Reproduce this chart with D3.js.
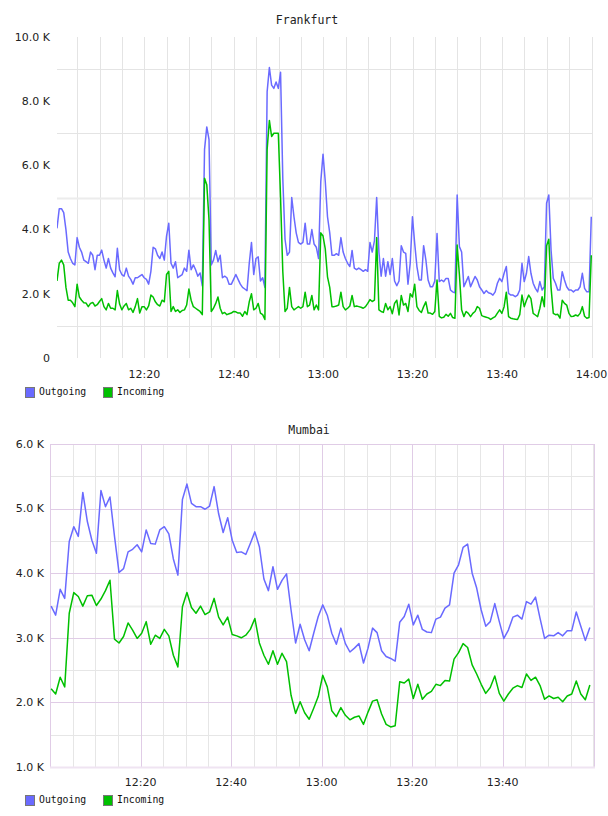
<!DOCTYPE html>
<html><head><meta charset="utf-8">
<script src="https://cdn.jsdelivr.net/npm/d3@7/dist/d3.min.js"></script>
<style>body{margin:0;background:#fff}svg{display:block}</style>
</head><body>
<svg id="chart" width="608" height="816"></svg>
<script>
// ---------------- DATA ----------------
const seriesNames = ["Outgoing", "Incoming"];
const seriesColors = ["#6a6aff", "#00c000"];

// Frankfurt: samples every 30 s starting 12:00:27 (values in K)
const frankfurtStart = "12:00:27";
const frankfurtStepSec = 30;
const frankfurtOutgoing = [
4.04,4.65,4.65,4.53,4.0,3.3,3.1,2.95,2.9,3.75,
3.45,3.3,3.05,3.0,2.95,3.3,3.2,2.75,3.2,3.2,
3.36,3.05,2.8,3.1,2.8,2.65,2.53,3.42,2.75,2.6,
2.55,2.8,2.55,2.45,2.3,2.5,2.5,2.55,2.6,2.5,
2.45,2.3,2.7,3.45,3.4,3.2,3.1,3.3,3.05,3.8,
4.2,2.95,2.8,3.0,2.5,2.55,2.6,2.8,2.7,3.36,
2.75,2.9,2.75,2.55,2.65,2.25,6.5,7.2,6.8,2.9,
3.05,3.35,3.0,3.2,2.5,2.55,2.5,2.3,2.3,2.45,
2.6,2.45,2.3,2.2,2.15,2.1,2.95,3.6,2.6,3.1,
3.15,2.4,2.5,2.2,8.3,9.05,8.5,8.4,8.6,8.4,
8.9,5.6,3.7,3.2,3.3,5.0,4.4,3.9,3.6,3.55,
3.6,4.2,3.55,3.55,4.0,3.55,3.45,3.1,5.5,6.35,
5.5,4.4,3.9,3.2,3.2,3.25,3.2,3.75,3.3,3.1,
2.95,2.85,3.35,2.8,2.75,2.8,2.75,2.7,2.75,2.7,
3.6,3.3,3.65,5.0,3.3,2.55,3.1,2.55,3.0,2.6,
3.1,2.4,2.25,2.4,3.5,3.3,3.26,2.3,2.95,4.4,
3.57,2.85,2.43,2.43,3.5,3.06,2.43,2.22,2.22,2.4,
3.88,2.38,2.43,2.38,2.48,2.48,2.12,2.06,2.03,5.08,
3.47,3.3,2.22,2.38,2.54,2.22,2.38,2.54,2.43,2.22,
2.12,2.01,2.1,2.03,2.01,1.96,2.06,2.33,2.48,2.38,
2.64,2.85,2.01,1.96,1.96,1.91,1.96,2.12,2.95,2.38,
2.64,3.16,2.64,2.33,2.17,2.06,2.38,2.12,2.22,4.82,
5.08,3.36,2.48,2.33,2.12,2.12,2.69,2.43,2.22,2.12,
2.12,2.06,2.12,2.12,2.22,2.64,2.17,2.06,2.06,4.40
];
const frankfurtIncoming = [
2.4,2.95,3.05,2.9,2.2,1.8,1.8,1.72,1.6,2.3,
1.9,1.8,1.72,1.71,1.6,1.7,1.73,1.62,1.66,1.76,
1.85,1.6,1.5,1.7,1.55,1.55,1.5,2.1,1.68,1.5,
1.62,1.7,1.5,1.55,1.42,1.6,1.85,1.4,1.6,1.6,
1.5,1.62,1.96,1.9,1.75,1.66,1.62,1.8,1.75,2.6,
2.7,1.45,1.6,1.45,1.5,1.42,1.48,1.5,1.65,2.15,
1.8,1.6,1.55,1.5,1.45,1.35,5.6,5.4,4.3,1.45,
1.55,1.7,1.9,1.55,1.38,1.42,1.35,1.38,1.4,1.45,
1.44,1.4,1.4,1.3,1.45,1.35,1.75,2.0,1.5,1.55,
1.7,1.4,1.35,1.2,6.5,7.4,6.9,7.0,7.0,7.0,
5.0,2.7,1.45,1.55,2.2,1.6,1.5,1.55,1.6,1.55,
1.6,2.05,1.6,1.65,1.95,1.5,1.65,1.5,3.9,3.8,
3.4,2.53,2.2,1.6,1.6,1.62,1.65,2.05,1.6,1.5,
1.55,1.62,1.95,1.6,1.62,1.6,1.58,1.55,1.6,1.7,
1.82,1.76,1.8,3.75,1.5,1.45,1.42,1.7,1.5,1.6,
1.38,1.7,1.8,1.34,1.95,1.65,1.7,1.45,2.0,1.9,
2.3,1.6,1.48,1.42,1.6,1.75,1.4,1.4,1.36,1.45,
2.43,1.3,1.25,1.27,1.36,1.3,1.39,1.26,1.24,3.52,
2.6,1.5,1.29,1.45,1.39,1.29,1.39,1.45,1.6,1.55,
1.32,1.29,1.27,1.25,1.2,1.25,1.29,1.4,1.5,1.39,
1.6,2.05,1.29,1.24,1.22,1.21,1.2,1.35,1.96,1.6,
1.8,1.96,1.85,1.39,1.34,1.29,1.55,1.91,1.6,3.5,
3.7,2.2,1.39,1.35,1.36,1.24,1.8,1.7,1.65,1.39,
1.29,1.3,1.34,1.31,1.39,1.6,1.3,1.24,1.26,3.2
];

// Mumbai: samples every 60 s starting 12:00:15 (values in K)
const mumbaiStart = "12:00:15";
const mumbaiStepSec = 60;
const mumbaiOutgoing = [
3.49,3.35,3.75,3.61,4.49,4.72,4.57,5.25,4.80,4.51,
4.31,5.28,5.03,5.18,4.57,4.01,4.07,4.33,4.37,4.44,
4.33,4.67,4.46,4.45,4.67,4.72,4.61,4.22,3.97,5.14,
5.38,5.08,5.03,5.03,4.99,5.04,5.34,4.92,4.63,4.86,
4.51,4.32,4.33,4.29,4.46,4.64,4.41,3.91,3.73,4.10,
3.75,3.89,3.99,3.43,2.92,3.21,2.97,2.80,3.07,3.33,
3.51,3.35,3.07,2.90,3.15,2.91,2.78,2.84,2.91,2.61,
2.84,3.15,3.08,2.80,2.71,2.68,2.64,3.24,3.33,3.52,
3.20,3.35,3.13,3.09,3.08,3.29,3.32,3.46,3.51,4.00,
4.13,4.40,4.45,4.00,3.77,3.43,3.18,3.25,3.53,3.25,
2.99,3.12,3.32,3.35,3.29,3.56,3.52,3.63,3.30,2.99,
3.04,3.03,3.08,3.03,3.11,3.11,3.40,3.18,2.96,3.16
];
const mumbaiIncoming = [
2.21,2.13,2.39,2.24,3.38,3.70,3.64,3.49,3.65,3.66,
3.50,3.60,3.73,3.89,2.98,2.92,3.02,3.23,3.12,2.99,
3.07,3.25,2.90,3.04,2.99,3.13,3.03,2.73,2.55,3.48,
3.70,3.47,3.38,3.49,3.36,3.40,3.61,3.32,3.20,3.32,
3.05,3.03,3.00,3.04,3.13,3.30,2.92,2.73,2.59,2.80,
2.59,2.76,2.63,2.11,1.83,2.01,1.84,1.74,1.91,2.09,
2.42,2.24,1.87,1.78,1.92,1.80,1.73,1.77,1.79,1.66,
1.85,2.02,2.04,1.82,1.66,1.62,1.64,2.32,2.30,2.36,
2.06,2.28,2.05,2.13,2.17,2.28,2.26,2.34,2.33,2.67,
2.77,2.91,2.85,2.58,2.44,2.28,2.14,2.23,2.41,2.14,
2.02,2.13,2.22,2.26,2.23,2.44,2.34,2.39,2.26,2.05,
2.10,2.06,2.08,2.01,2.10,2.13,2.33,2.13,2.04,2.27
];

const frankfurtYTicks = [0, 2000, 4000, 6000, 8000, 10000];
const mumbaiYTicks = [1000, 2000, 3000, 4000, 5000, 6000];
const frankfurtXTicks = ["12:20", "12:40", "13:00", "13:20", "13:40", "14:00"];
const mumbaiXTicks = ["12:20", "12:40", "13:00", "13:20", "13:40"];

// ---------------- DRAWING ----------------
const svg = d3.select("#chart");
const parseT = s => { const [h, m, sec] = s.split(":").map(Number); return new Date(Date.UTC(2020, 0, 1, h, m, sec || 0)); };
const fmtY = v => v === 0 ? "0" : d3.format(".1f")(v / 1000) + " K";
const axisFont = "DejaVu Sans, sans-serif";
const monoFont = "DejaVu Sans Mono, monospace";

function drawChart(cfg) {
  const g = svg.append("g");
  const x = d3.scaleUtc().domain([parseT(cfg.x0), parseT(cfg.x1)]).range([cfg.left, cfg.right]);
  const y = d3.scaleLinear().domain(cfg.yDomain).range([cfg.bottom, cfg.top]);

  // minor vertical grid (every 5 min)
  const minorT = d3.utcMinute.every(5).range(parseT(cfg.x0), parseT(cfg.x1));
  g.append("g").selectAll("line").data(minorT).join("line")
    .attr("x1", d => Math.round(x(d)) + 0.5).attr("x2", d => Math.round(x(d)) + 0.5)
    .attr("y1", cfg.top).attr("y2", cfg.bottom)
    .attr("stroke", cfg.minorColor).attr("stroke-width", 1);

  // minor horizontal grid
  g.append("g").selectAll("line").data(cfg.hMinor).join("line")
    .attr("x1", cfg.left).attr("x2", cfg.right)
    .attr("y1", d => Math.round(y(d)) + 0.5).attr("y2", d => Math.round(y(d)) + 0.5)
    .attr("stroke", d => d === cfg.hThick ? cfg.thickColor : cfg.minorColor)
    .attr("stroke-width", d => d === cfg.hThick ? 2 : 1);

  if (cfg.majorColor) {
    g.append("g").selectAll("line").data(cfg.xTicks.map(parseT)).join("line")
      .attr("x1", d => Math.round(x(d)) + 0.5).attr("x2", d => Math.round(x(d)) + 0.5)
      .attr("y1", cfg.top).attr("y2", cfg.bottom)
      .attr("stroke", cfg.majorColor);
    g.append("g").selectAll("line").data(cfg.yTicks.slice(1, -1)).join("line")
      .attr("x1", cfg.left).attr("x2", cfg.right)
      .attr("y1", d => Math.round(y(d)) + 0.5).attr("y2", d => Math.round(y(d)) + 0.5)
      .attr("stroke", cfg.majorColor);
    g.append("rect").attr("x", cfg.left + 0.5).attr("y", cfg.top + 0.5)
      .attr("width", cfg.right - cfg.left).attr("height", cfg.bottom - cfg.top)
      .attr("fill", "none").attr("stroke", cfg.majorColor);
    g.append("line").attr("x1", cfg.left).attr("x2", cfg.right + 1)
      .attr("y1", cfg.bottom + 0.5).attr("y2", cfg.bottom + 0.5)
      .attr("stroke", "#efe4f2").attr("stroke-width", 2);
  }

  // y labels
  g.append("g").selectAll("text").data(cfg.yTicks).join("text")
    .attr("x", cfg.yLabelX).attr("y", d => y(d)).attr("dy", "0.35em")
    .attr("text-anchor", "end").attr("font-family", axisFont).attr("font-size", 11)
    .attr("fill", "#222").text(fmtY);

  // x labels
  g.append("g").selectAll("text").data(cfg.xTicks).join("text")
    .attr("x", d => x(parseT(d))).attr("y", cfg.xLabelY).attr("dy", "0.35em")
    .attr("text-anchor", "middle").attr("font-family", axisFont).attr("font-size", 11)
    .attr("fill", "#222").text(d => d);

  // title
  g.append("text").attr("x", cfg.titleX).attr("y", cfg.titleY).attr("dy", "0.35em")
    .attr("text-anchor", "middle").attr("font-family", monoFont).attr("font-size", 11.5)
    .attr("fill", "#222").text(cfg.title);

  // series lines
  const clipId = "clip-" + cfg.title;
  svg.append("clipPath").attr("id", clipId).append("rect")
    .attr("x", cfg.left).attr("y", cfg.top - 2).attr("width", cfg.right - cfg.left + 2).attr("height", cfg.bottom - cfg.top + 4);
  const t0 = parseT(cfg.dataStart).getTime();
  const line = d3.line()
    .x((d, i) => x(new Date(t0 + i * cfg.stepSec * 1000)))
    .y(d => y(d * 1000));
  cfg.series.forEach((vals, si) => {
    g.append("path").datum(vals).attr("d", line)
      .attr("fill", "none").attr("stroke", seriesColors[si]).attr("stroke-width", 1.5)
      .attr("stroke-linejoin", "round").attr("clip-path", `url(#${clipId})`);
  });

  // legend
  const lg = g.append("g");
  const legendX = [25, 103];
  seriesNames.forEach((name, i) => {
    lg.append("rect").attr("x", legendX[i] + 0.5).attr("y", cfg.legendY - 5 + 0.5)
      .attr("width", 9).attr("height", 10).attr("fill", seriesColors[i])
      .attr("stroke", "#777").attr("stroke-width", 1);
    lg.append("text").attr("x", legendX[i] + 14).attr("y", cfg.legendY).attr("dy", "0.35em")
      .attr("font-family", monoFont).attr("font-size", 9.8).attr("fill", "#111").text(name);
  });
}

drawChart({
  title: "Frankfurt", titleX: 307, titleY: 20,
  left: 57, right: 593, top: 37, bottom: 358,
  x0: "12:00:27", x1: "14:00:20", yDomain: [0, 10000],
  yTicks: frankfurtYTicks, xTicks: frankfurtXTicks,
  hMinor: [1000, 3000, 5000, 7000, 9000], hThick: 5000,
  minorColor: "#e4e4e4", thickColor: "#ececec", majorColor: null,
  yLabelX: 50, xLabelY: 374, legendY: 392,
  dataStart: frankfurtStart, stepSec: frankfurtStepSec,
  series: [frankfurtOutgoing, frankfurtIncoming]
});

drawChart({
  title: "Mumbai", titleX: 309, titleY: 430,
  left: 50, right: 594, top: 444, bottom: 767,
  x0: "12:00:00", x1: "14:00:10", yDomain: [1000, 6000],
  yTicks: mumbaiYTicks, xTicks: mumbaiXTicks,
  hMinor: [1500, 2500, 3500, 4500, 5500], hThick: 3500,
  minorColor: "#e6e6e6", thickColor: "#ededed", majorColor: "#e0cce6",
  yLabelX: 44, xLabelY: 782, legendY: 800,
  dataStart: mumbaiStart, stepSec: mumbaiStepSec,
  series: [mumbaiOutgoing, mumbaiIncoming]
});
</script>
</body></html>
